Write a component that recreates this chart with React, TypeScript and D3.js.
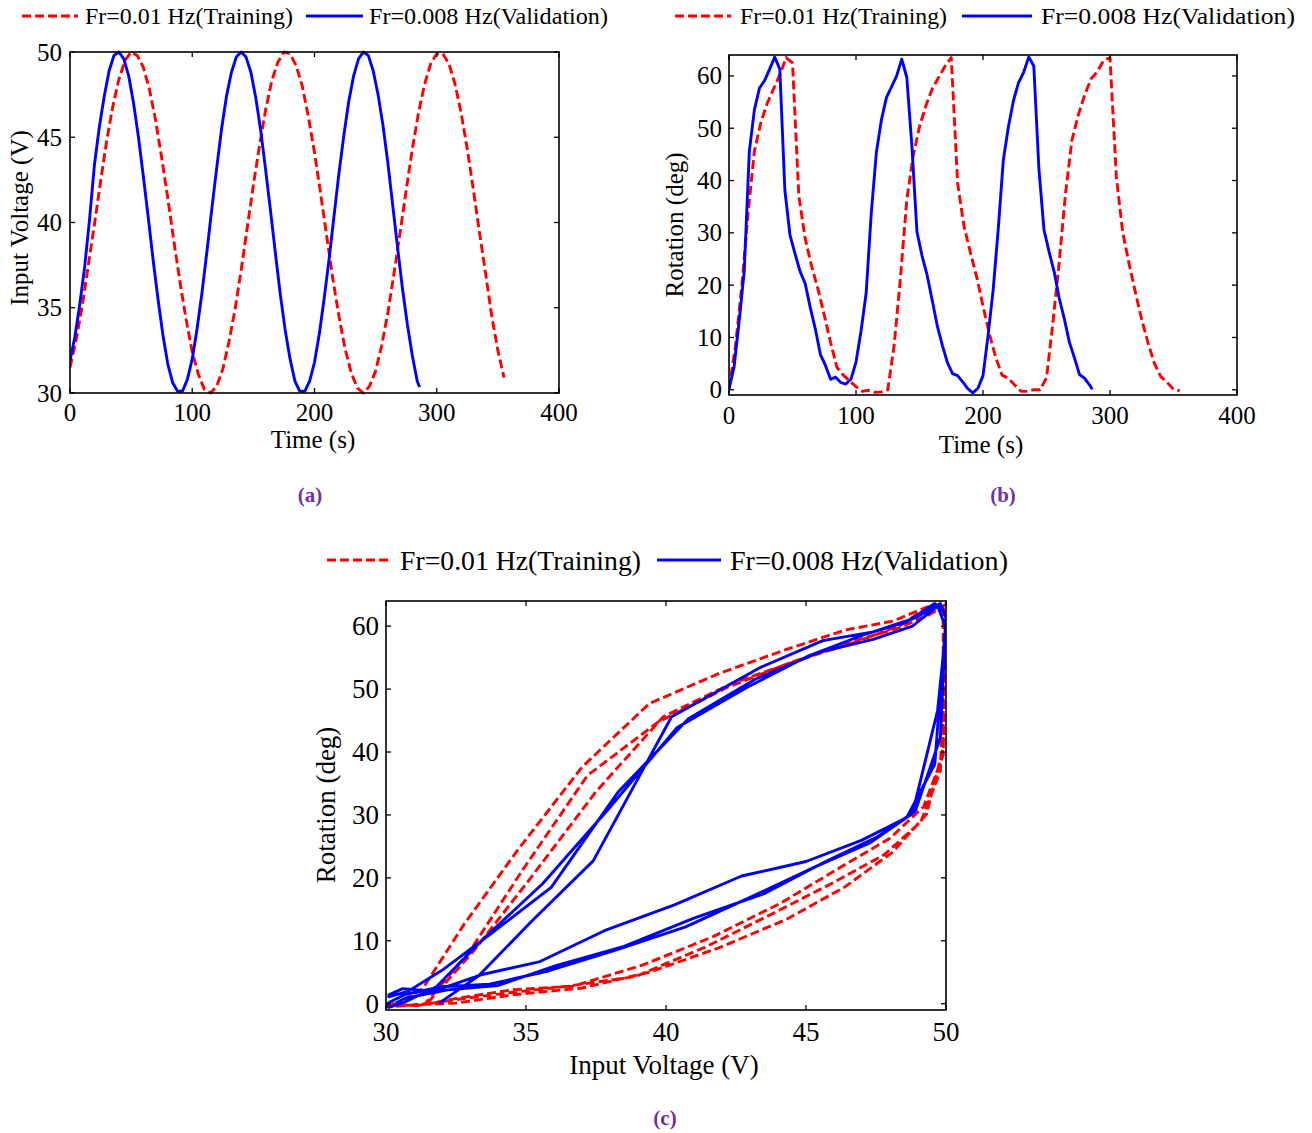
import React from 'react';
import * as d3 from 'd3';

// ---------------- data ----------------
const redTime = [0, 5, 10, 15, 20, 25, 30, 35, 40, 45, 50, 55, 60, 65, 70, 75, 80, 85, 90, 95,
  100, 105, 110, 115, 120, 125, 130, 135, 140, 145, 150, 155, 160, 165, 170, 175, 180, 185, 190, 195,
  200, 205, 210, 215, 220, 225, 230, 235, 240, 245, 250, 255, 260, 265, 270, 275, 280, 285, 290, 295,
  300, 305, 310, 315, 320, 325, 330, 335, 340, 345, 350, 355];
const redVoltage = [31.5, 33.1, 35.1, 37.5, 39.9, 42.4, 44.8, 46.8, 48.4, 49.5,
  50.0, 49.8, 49.1, 47.8, 46.0, 43.8, 41.4, 38.9, 36.5, 34.3,
  32.4, 31.1, 30.2, 30.0, 30.4, 31.4, 33.0, 34.9, 37.2, 39.7,
  42.2, 44.5, 46.6, 48.3, 49.4, 50.0, 49.9, 49.2, 48.0, 46.2,
  44.1, 41.7, 39.2, 36.7, 34.5, 32.6, 31.2, 30.3, 30.0, 30.4,
  31.3, 32.8, 34.7, 37.0, 39.4, 41.9, 44.3, 46.4, 48.1, 49.3,
  49.9, 49.9, 49.3, 48.1, 46.4, 44.3, 41.9, 39.4, 37.0, 34.5,
  32.5, 30.9];
const redRotation = [0.2, 8.2, 19.6, 33.7, 45.6, 51.0, 54.7, 57.5, 60.2, 63.5,
  62.5, 37.0, 28.9, 23.7, 19.3, 14.3, 9.0, 4.3, 2.8, 1.7,
  0.6, -0.3, -0.1, -0.5, -0.4, 0.0, 8.4, 21.4, 36.3, 44.7,
  50.3, 54.3, 57.5, 59.7, 61.8, 63.5, 39.5, 31.3, 26.3, 21.6,
  16.0, 10.7, 6.2, 2.8, 2.2, 0.9, -0.3, -0.3, 0.0, 0.0,
  2.3, 12.7, 24.4, 37.6, 47.7, 52.5, 56.3, 59.4, 60.8, 63.0,
  63.5, 40.7, 30.1, 24.1, 18.6, 13.4, 8.9, 5.0, 2.5, 1.4,
  0.1, -0.2];

const blueTime = [0, 4, 8, 12, 16, 20, 24, 28, 32, 36, 40, 44, 48, 52, 56, 60, 64, 68, 72, 76,
  80, 84, 88, 92, 96, 100, 104, 108, 112, 116, 120, 124, 128, 132, 136, 140, 144, 148, 152, 156,
  160, 164, 168, 172, 176, 180, 184, 188, 192, 196, 200, 204, 208, 212, 216, 220, 224, 228, 232, 236,
  240, 244, 248, 252, 256, 260, 264, 268, 272, 276, 280, 284, 286];
const blueVoltage = [31.9, 33.3, 35.2, 37.4, 40.2, 43.4, 45.6, 47.4, 48.9, 49.8,
  50.0, 49.6, 48.6, 47.0, 45.0, 42.7, 40.3, 37.8, 35.5, 33.4,
  31.7, 30.6, 30.1, 30.1, 30.8, 32.0, 33.8, 35.9, 38.3, 40.8,
  43.2, 45.5, 47.4, 48.8, 49.7, 50.0, 49.7, 48.8, 47.3, 45.4,
  43.1, 40.7, 38.2, 35.8, 33.7, 32.0, 30.7, 30.1, 30.1, 30.7,
  31.8, 33.5, 35.6, 37.9, 40.4, 42.9, 45.1, 47.1, 48.6, 49.6,
  50.0, 49.8, 48.9, 47.5, 45.7, 43.5, 41.0, 38.5, 36.1, 34.0,
  32.2, 30.7, 30.35];
const blueRotation = [0.1, 4.4, 13.1, 22.7, 45.6, 53.5, 57.7, 59.1, 61.3, 63.6,
  61.3, 38.1, 29.6, 26.0, 22.6, 20.3, 15.7, 11.6, 6.7, 4.6,
  2.0, 2.4, 1.4, 1.1, 2.0, 5.3, 11.3, 18.5, 33.7, 45.3,
  51.6, 55.9, 57.9, 60.0, 63.2, 59.7, 46.6, 30.2, 25.6, 21.9,
  17.1, 12.2, 8.5, 5.2, 3.1, 2.7, 1.5, 0.2, -0.6, 0.3,
  2.7, 10.4, 19.1, 30.7, 43.9, 50.3, 55.3, 58.7, 60.7, 63.6,
  61.9, 42.3, 30.6, 26.4, 22.6, 17.5, 13.6, 9.1, 6.1, 2.9,
  2.2, 0.9, 0.1];

const timeTicks = [0, 100, 200, 300, 400];
const voltageTicks = [30, 35, 40, 45, 50];
const rotationTicks = [0, 10, 20, 30, 40, 50, 60];
const seriesNames = ['Fr=0.01 Hz(Training)', 'Fr=0.008 Hz(Validation)'];
const captions = ['(a)', '(b)', '(c)'];

// ---------------- styling ----------------
const FONT = '"Liberation Serif", "Times New Roman", Times, serif';
const RED = '#ff0000';
const BLUE = '#0000ff';
const DASH = '9,4';
const CAPTION = '#7030a0';

type Box = { l: number; t: number; r: number; b: number };
type Series = { xs: number[]; ys: number[]; color: string; dash?: string };

function Panel(props: {
  id: string;
  box: Box;
  xDomain: [number, number];
  yDomain: [number, number];
  xTicks: number[];
  yTicks: number[];
  series: Series[];
  fs: number;
  xLabel: string;
  yLabel: string;
  xTickY: number;
  xLabelPos: [number, number];
  yLabelPos: [number, number];
  yTickGap: number;
}) {
  const { id, box, xDomain, yDomain, xTicks, yTicks, series, fs } = props;
  const x = d3.scaleLinear().domain(xDomain).range([box.l, box.r]);
  const y = d3.scaleLinear().domain(yDomain).range([box.b, box.t]);
  const tl = 5;
  return (
    <g>
      <defs>
        <clipPath id={id}>
          <rect x={box.l} y={box.t - 2} width={box.r - box.l} height={box.b - box.t + 4} />
        </clipPath>
      </defs>
      <g clipPath={`url(#${id})`}>
        {series.map((s, k) => {
          const gen = d3
            .line<number>()
            .x((_, i) => x(s.xs[i]))
            .y((v) => y(v))
            .curve(d3.curveLinear);
          return (
            <path
              key={k}
              d={gen(s.ys) || ''}
              fill="none"
              stroke={s.color}
              strokeWidth={2.9}
              strokeDasharray={s.dash}
              strokeLinejoin="round"
            />
          );
        })}
      </g>
      <rect x={box.l} y={box.t} width={box.r - box.l} height={box.b - box.t} fill="none" stroke="#000" strokeWidth={1.6} />
      {xTicks.map((v) => (
        <g key={'xt' + v}>
          <line x1={x(v)} x2={x(v)} y1={box.b} y2={box.b - tl} stroke="#000" strokeWidth={1.3} />
          <line x1={x(v)} x2={x(v)} y1={box.t} y2={box.t + tl} stroke="#000" strokeWidth={1.3} />
          <text x={x(v)} y={props.xTickY} textAnchor="middle" dominantBaseline="central" fontSize={fs} fontFamily={FONT} fill="#000">
            {v}
          </text>
        </g>
      ))}
      {yTicks.map((v) => (
        <g key={'yt' + v}>
          <line x1={box.l} x2={box.l + tl} y1={y(v)} y2={y(v)} stroke="#000" strokeWidth={1.3} />
          <line x1={box.r} x2={box.r - tl} y1={y(v)} y2={y(v)} stroke="#000" strokeWidth={1.3} />
          <text x={box.l - props.yTickGap} y={y(v)} textAnchor="end" dominantBaseline="central" fontSize={fs} fontFamily={FONT} fill="#000">
            {v}
          </text>
        </g>
      ))}
      <text x={props.xLabelPos[0]} y={props.xLabelPos[1]} textAnchor="middle" dominantBaseline="central" fontSize={fs} fontFamily={FONT} fill="#000">
        {props.xLabel}
      </text>
      <text
        transform={`translate(${props.yLabelPos[0]},${props.yLabelPos[1]}) rotate(-90)`}
        textAnchor="middle"
        dominantBaseline="central"
        fontSize={fs}
        fontFamily={FONT}
        fill="#000"
      >
        {props.yLabel}
      </text>
    </g>
  );
}

function Legend(props: {
  y: number;
  fs: number;
  items: { x1: number; x2: number; tx: number; tw: number; color: string; dash?: string; label: string }[];
}) {
  return (
    <g>
      {props.items.map((it, i) => (
        <g key={i}>
          <line x1={it.x1} x2={it.x2} y1={props.y} y2={props.y} stroke={it.color} strokeWidth={2.9} strokeDasharray={it.dash} />
          <text
            x={it.tx}
            y={props.y}
            dominantBaseline="central"
            fontSize={props.fs}
            fontFamily={FONT}
            fill="#000"
            textLength={it.tw}
            lengthAdjust="spacingAndGlyphs"
          >
            {it.label}
          </text>
        </g>
      ))}
    </g>
  );
}

export default function App() {
  const redA: Series = { xs: redTime, ys: redVoltage, color: RED, dash: DASH };
  const blueA: Series = { xs: blueTime, ys: blueVoltage, color: BLUE };
  const redB: Series = { xs: redTime, ys: redRotation, color: RED, dash: DASH };
  const blueB: Series = { xs: blueTime, ys: blueRotation, color: BLUE };
  const redC: Series = { xs: redVoltage, ys: redRotation, color: RED, dash: DASH };
  const blueC: Series = { xs: blueVoltage, ys: blueRotation, color: BLUE };

  return (
    <svg width={1312} height={1133} style={{ position: 'absolute', left: 0, top: 0, background: '#fff' }}>
      <rect x={0} y={0} width={1312} height={1133} fill="#fff" />
      <Legend
        y={16}
        fs={24}
        items={[
          { x1: 22, x2: 78, tx: 85, tw: 208, color: RED, dash: DASH, label: seriesNames[0] },
          { x1: 306, x2: 363, tx: 369, tw: 239, color: BLUE, label: seriesNames[1] },
        ]}
      />
      <Panel
        id="clipA"
        box={{ l: 70, t: 52, r: 559, b: 393 }}
        xDomain={[0, 400]}
        yDomain={[30, 50]}
        xTicks={timeTicks}
        yTicks={voltageTicks}
        series={[redA, blueA]}
        fs={25}
        xLabel="Time (s)"
        yLabel="Input Voltage (V)"
        xTickY={412}
        xLabelPos={[313, 439]}
        yLabelPos={[19, 218]}
        yTickGap={8}
      />
      <Legend
        y={16}
        fs={24}
        items={[
          { x1: 675, x2: 731, tx: 740, tw: 207, color: RED, dash: DASH, label: seriesNames[0] },
          { x1: 962, x2: 1032, tx: 1041, tw: 254, color: BLUE, label: seriesNames[1] },
        ]}
      />
      <Panel
        id="clipB"
        box={{ l: 729, t: 55, r: 1237, b: 395 }}
        xDomain={[0, 400]}
        yDomain={[-1, 64]}
        xTicks={timeTicks}
        yTicks={rotationTicks}
        series={[redB, blueB]}
        fs={25}
        xLabel="Time (s)"
        yLabel="Rotation (deg)"
        xTickY={415}
        xLabelPos={[981, 444]}
        yLabelPos={[674, 225]}
        yTickGap={7}
      />
      <Legend
        y={560}
        fs={28}
        items={[
          { x1: 327, x2: 389, tx: 400, tw: 241, color: RED, dash: DASH, label: seriesNames[0] },
          { x1: 657, x2: 721, tx: 730, tw: 278, color: BLUE, label: seriesNames[1] },
        ]}
      />
      <Panel
        id="clipC"
        box={{ l: 386, t: 601, r: 946, b: 1010 }}
        xDomain={[30, 50]}
        yDomain={[-1, 64]}
        xTicks={voltageTicks}
        yTicks={rotationTicks}
        series={[redC, blueC]}
        fs={27}
        xLabel="Input Voltage (V)"
        yLabel="Rotation (deg)"
        xTickY={1032}
        xLabelPos={[664, 1065]}
        yLabelPos={[326, 805]}
        yTickGap={7}
      />
      <text x={310} y={495} textAnchor="middle" dominantBaseline="central" fontSize={21} fontWeight="bold" fontFamily={FONT} fill={CAPTION}>
        {captions[0]}
      </text>
      <text x={1003} y={495} textAnchor="middle" dominantBaseline="central" fontSize={21} fontWeight="bold" fontFamily={FONT} fill={CAPTION}>
        {captions[1]}
      </text>
      <text x={665} y={1118} textAnchor="middle" dominantBaseline="central" fontSize={21} fontWeight="bold" fontFamily={FONT} fill={CAPTION}>
        {captions[2]}
      </text>
    </svg>
  );
}
